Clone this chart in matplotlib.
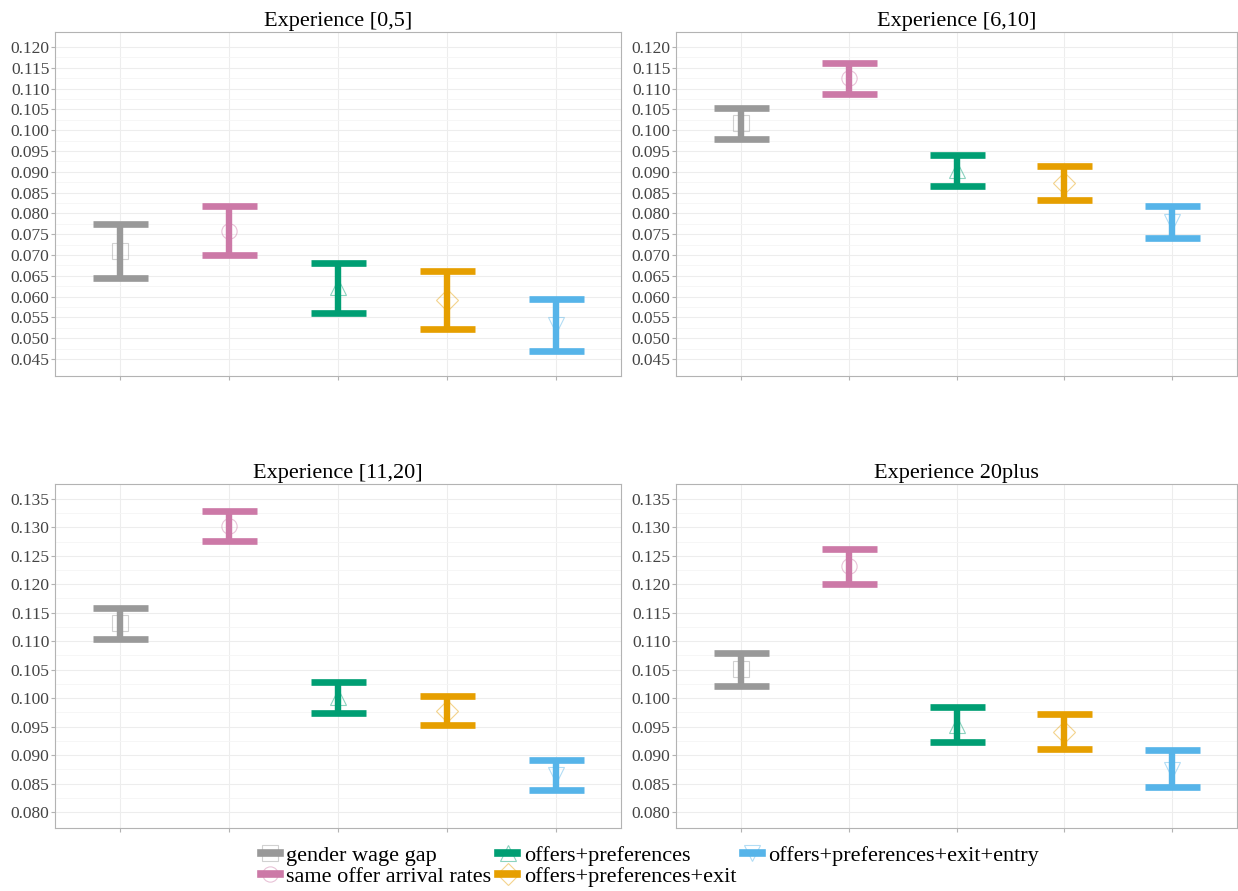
import numpy as np
import matplotlib.pyplot as plt
from matplotlib.colors import to_rgba
from matplotlib.lines import Line2D

plt.rcParams['font.family'] = ['Liberation Serif', 'DejaVu Serif']

# series labels / styles
labels = ['gender wage gap', 'same offer arrival rates', 'offers+preferences',
          'offers+preferences+exit', 'offers+preferences+exit+entry']
colors = ['#999999', '#CC79A7', '#009E73', '#E69F00', '#56B4E9']
markers = ['s', 'o', '^', 'D', 'v']

titles = ['Experience [0,5]', 'Experience [6,10]', 'Experience [11,20]', 'Experience 20plus']

# point estimates and CI bounds per panel (order follows labels)
est_0_5 = [0.0710, 0.0758, 0.0623, 0.0592, 0.0532]
lo_0_5 = [0.0645, 0.0700, 0.0561, 0.0522, 0.0469]
hi_0_5 = [0.0775, 0.0818, 0.0681, 0.0662, 0.0594]

est_6_10 = [0.1017, 0.1125, 0.0904, 0.0873, 0.0779]
lo_6_10 = [0.0979, 0.1087, 0.0866, 0.0832, 0.0741]
hi_6_10 = [0.1053, 0.1162, 0.0940, 0.0914, 0.0818]

est_11_20 = [0.1132, 0.1303, 0.1002, 0.0978, 0.0865]
lo_11_20 = [0.1104, 0.1276, 0.0974, 0.0952, 0.0838]
hi_11_20 = [0.1158, 0.1329, 0.1028, 0.1003, 0.0892]

est_20p = [0.1051, 0.1232, 0.0953, 0.0941, 0.0874]
lo_20p = [0.1021, 0.1201, 0.0923, 0.0911, 0.0844]
hi_20p = [0.1079, 0.1262, 0.0984, 0.0972, 0.0909]

panels = [(est_0_5, lo_0_5, hi_0_5), (est_6_10, lo_6_10, hi_6_10),
          (est_11_20, lo_11_20, hi_11_20), (est_20p, lo_20p, hi_20p)]

top_ticks = np.arange(0.045, 0.1201, 0.005)
bot_ticks = np.arange(0.080, 0.1351, 0.005)
ylims = [(0.0409, 0.1236), (0.0409, 0.1236), (0.0772, 0.1376), (0.0772, 0.1376)]
yticks = [top_ticks, top_ticks, bot_ticks, bot_ticks]

W, H = 1238, 891
fig = plt.figure(figsize=(W / 100, H / 100), dpi=100)
# panel boxes in pixels: left, top, right, bottom
boxes = [(55, 32, 621, 376), (676, 32, 1237, 376), (55, 484, 621, 828), (676, 484, 1237, 828)]

x = np.arange(1, 6)
for i, (est, lo, hi) in enumerate(panels):
    l, t, r, b = boxes[i]
    ax = fig.add_axes([l / W, 1 - b / H, (r - l) / W, (b - t) / H])
    ax.set_xlim(0.4, 5.6)
    ax.set_ylim(*ylims[i])
    ax.set_yticks(yticks[i])
    ax.set_yticklabels(['%.3f' % v for v in yticks[i]])
    ax.set_yticks(yticks[i][:-1] + 0.0025, minor=True)
    ax.set_xticks(x)
    ax.set_xticklabels([])
    ax.grid(True, which='major', color='#ededed', lw=0.8)
    ax.grid(True, which='minor', axis='y', color='#f5f5f5', lw=0.6)
    ax.set_axisbelow(True)
    for s in ax.spines.values():
        s.set_color('#b3b3b3')
        s.set_linewidth(0.8)
    ax.tick_params(axis='both', which='major', color='#b3b3b3', length=3, width=0.8,
                   labelsize=12.5, labelcolor='#444444', pad=1)
    ax.tick_params(which='minor', length=0)
    for j in range(5):
        ax.plot(x[j], est[j], marker=markers[j], ms=11, mfc='none',
                mec=to_rgba(colors[j], 0.45), mew=0.8, zorder=2)
        ax.errorbar(x[j], est[j], yerr=[[est[j] - lo[j]], [hi[j] - est[j]]], fmt='none',
                    ecolor=colors[j], elinewidth=4.6, capsize=19.8, capthick=4.8, zorder=3)
    ax.set_title(titles[i], fontsize=16, pad=4)

handles = []
for j in range(5):
    handles.append(Line2D([], [], color=colors[j], lw=5.5, marker=markers[j], ms=11,
                          mfc='none', mec=to_rgba(colors[j], 0.45), mew=0.8))
fig.legend(handles, labels, loc='center', bbox_to_anchor=(650 / W, 1 - 866 / H), ncol=3,
           frameon=False, fontsize=16, handlelength=0.85, handletextpad=0.3,
           columnspacing=0.3, labelspacing=0.0, borderaxespad=0)

fig.savefig('out.png', dpi=100)
